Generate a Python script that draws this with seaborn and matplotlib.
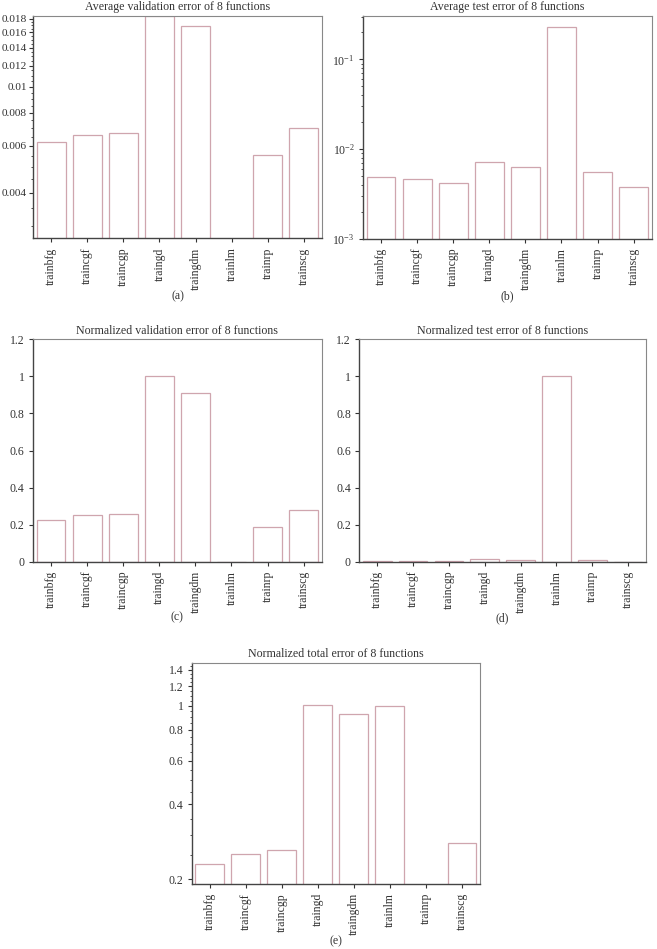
import matplotlib
matplotlib.use("Agg")
import matplotlib.pyplot as plt
import matplotlib.ticker as mticker
import seaborn as sns
import numpy as np
import pandas as pd

functions = ["trainbfg", "traincgf", "traincgp", "traingd", "traingdm", "trainlm", "trainrp", "trainscg"]

avg_validation = [0.00618, 0.00657, 0.0067, 0.0184, 0.01695, 0.00262, 0.00556, 0.0070]
avg_test = [0.00482, 0.00458, 0.00413, 0.00716, 0.00623, 0.227, 0.00553, 0.00382]
norm_validation = [0.227, 0.250, 0.259, 1.0, 0.912, 0.0, 0.186, 0.277]
norm_test = [0.0045, 0.0034, 0.0014, 0.015, 0.011, 1.0, 0.0076, 0.0]
norm_total = [0.2306, 0.253, 0.261, 1.012, 0.926, 1.003, 0.186, 0.279]

titles = ["Average validation error of 8 functions",
          "Average test error of 8 functions",
          "Normalized validation error of 8 functions",
          "Normalized test error of 8 functions",
          "Normalized total error of 8 functions"]
panel_labels = ["(a)", "(b)", "(c)", "(d)", "(e)"]

sns.set_theme(style="white")
plt.rcParams['font.family'] = ['Liberation Serif', 'DejaVu Serif']
plt.rcParams['mathtext.fontset'] = 'stix'

EDGE = "#cfa5ae"
TXT = "#333333"
W, H = 657, 949
fig = plt.figure(figsize=(W / 100, H / 100), dpi=100)

def rect(l, r, t, b):
    return [l / W, 1 - b / H, (r - l) / W, (b - t) / H]

boxes = [rect(33, 322, 16, 238.5),
         rect(363, 651.7, 16, 238.7),
         rect(33, 321.7, 339.3, 561.7),
         rect(359.3, 646, 339.3, 561.7),
         rect(191.7, 480, 662.7, 884)]
label_y = [296, 296, 617, 618, 941]

datasets = [avg_validation, avg_test, norm_validation, norm_test, norm_total]

for i, (box, vals) in enumerate(zip(boxes, datasets)):
    ax = fig.add_axes(box)
    df = pd.DataFrame({"function": functions, "value": vals})
    sns.barplot(data=df, x="function", y="value", ax=ax, fill=False,
                color=EDGE, linewidth=0.9, width=0.8, errorbar=None)
    for p in ax.patches:
        p.set_edgecolor(EDGE)
        p.set_facecolor("white")
        p.set_fill(True)
    ax.set_xlim(-0.5, 7.5)
    ax.set_xlabel("")
    ax.set_ylabel("")
    ax.set_title(titles[i], fontsize=8.6, color=TXT, pad=4)
    ax.tick_params(axis='x', rotation=90, labelsize=8.5, colors=TXT,
                   direction='out', length=3, width=0.8, bottom=True)
    ysize = 8.2 if i == 0 else 8.5
    ypad = 1.5 if i == 0 else 3
    ax.tick_params(axis='y', labelsize=ysize, colors=TXT, pad=ypad,
                   direction='out', length=3, width=0.8, left=True)
    ax.tick_params(axis='y', which='minor', direction='out', length=1.8,
                   width=0.6, left=True, colors=TXT)
    for s in ["left", "bottom"]:
        ax.spines[s].set_color("#444444")
        ax.spines[s].set_linewidth(1.0)
    for s in ["top", "right"]:
        ax.spines[s].set_color("#888888")
        ax.spines[s].set_linewidth(0.8)

    if i == 0:
        ax.set_yscale("log")
        ax.set_ylim(0.0027, 0.0184)
        ax.yaxis.set_major_locator(mticker.FixedLocator([0.004, 0.006, 0.008, 0.01, 0.012, 0.014, 0.016, 0.018]))
        ax.yaxis.set_major_formatter(mticker.FixedFormatter(["0.004", "0.006", "0.008", "0.01", "0.012", "0.014", "0.016", "0.018"]))
        ax.yaxis.set_minor_locator(mticker.FixedLocator(list(np.arange(0.003, 0.0185, 0.0005))))
        ax.yaxis.set_minor_formatter(mticker.NullFormatter())
    elif i == 1:
        ax.set_yscale("log")
        ax.set_ylim(0.001, 0.305)
        ax.yaxis.set_major_locator(mticker.LogLocator(base=10))
        ax.yaxis.set_minor_locator(mticker.LogLocator(base=10, subs=np.arange(2, 10)))
        ax.yaxis.set_minor_formatter(mticker.NullFormatter())
    elif i in (2, 3):
        ax.set_ylim(0, 1.2)
        ax.yaxis.set_major_locator(mticker.FixedLocator([0, 0.2, 0.4, 0.6, 0.8, 1.0, 1.2]))
        ax.yaxis.set_major_formatter(mticker.FixedFormatter(["0", "0.2", "0.4", "0.6", "0.8", "1", "1.2"]))
    else:
        ax.set_yscale("log")
        ax.set_ylim(0.191, 1.495)
        ax.yaxis.set_major_locator(mticker.FixedLocator([0.2, 0.4, 0.6, 0.8, 1.0, 1.2, 1.4]))
        ax.yaxis.set_major_formatter(mticker.FixedFormatter(["0.2", "0.4", "0.6", "0.8", "1", "1.2", "1.4"]))
        ax.yaxis.set_minor_locator(mticker.FixedLocator(list(np.arange(0.2, 1.5, 0.05))))
        ax.yaxis.set_minor_formatter(mticker.NullFormatter())

    bx = box[0] + box[2] / 2
    fig.text(bx, 1 - label_y[i] / H, panel_labels[i], ha="center", va="center",
             fontsize=8.5, color=TXT)

fig.savefig("out.png", dpi=100, facecolor="white")
